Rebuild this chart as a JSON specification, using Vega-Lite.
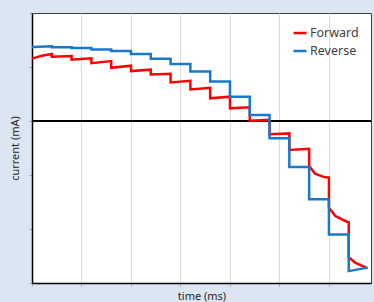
{
  "$schema": "https://vega.github.io/schema/vega-lite/v6.json",
  "autosize": "none",
  "width": 339,
  "height": 270,
  "padding": {"left": 32, "top": 13, "right": 3, "bottom": 19},
  "background": "#dce6f2",
  "config": {
    "view": {"fill": "white", "stroke": "#404040", "strokeWidth": 1},
    "font": "Noto Sans",
    "axis": {
      "domainColor": "black",
      "domainWidth": 1.5,
      "tickColor": "#a6a6a6",
      "tickSize": 3,
      "labels": false,
      "gridColor": "#d9d9d9",
      "gridWidth": 1,
      "titleFontWeight": "normal",
      "titleFontSize": 11,
      "titleColor": "#262626",
      "titleFont": "Noto Sans"
    }
  },
  "data": {
    "values": [
      {"series": "Forward", "i": 0, "t": 0.0, "v": 2.31},
      {"series": "Forward", "i": 1, "t": 0.2, "v": 2.42},
      {"series": "Forward", "i": 2, "t": 0.4, "v": 2.48},
      {"series": "Forward", "i": 3, "t": 0.4, "v": 2.38},
      {"series": "Forward", "i": 4, "t": 0.8, "v": 2.41},
      {"series": "Forward", "i": 5, "t": 0.8, "v": 2.27},
      {"series": "Forward", "i": 6, "t": 1.2, "v": 2.32},
      {"series": "Forward", "i": 7, "t": 1.2, "v": 2.14},
      {"series": "Forward", "i": 8, "t": 1.6, "v": 2.22},
      {"series": "Forward", "i": 9, "t": 1.6, "v": 1.97},
      {"series": "Forward", "i": 10, "t": 2.0, "v": 2.05},
      {"series": "Forward", "i": 11, "t": 2.0, "v": 1.85},
      {"series": "Forward", "i": 12, "t": 2.4, "v": 1.90},
      {"series": "Forward", "i": 13, "t": 2.4, "v": 1.72},
      {"series": "Forward", "i": 14, "t": 2.8, "v": 1.75},
      {"series": "Forward", "i": 15, "t": 2.8, "v": 1.43},
      {"series": "Forward", "i": 16, "t": 3.2, "v": 1.49},
      {"series": "Forward", "i": 17, "t": 3.2, "v": 1.17},
      {"series": "Forward", "i": 18, "t": 3.6, "v": 1.23},
      {"series": "Forward", "i": 19, "t": 3.6, "v": 0.84},
      {"series": "Forward", "i": 20, "t": 4.0, "v": 0.90},
      {"series": "Forward", "i": 21, "t": 4.0, "v": 0.47},
      {"series": "Forward", "i": 22, "t": 4.4, "v": 0.51},
      {"series": "Forward", "i": 23, "t": 4.4, "v": 0.01},
      {"series": "Forward", "i": 24, "t": 4.8, "v": 0.04},
      {"series": "Forward", "i": 25, "t": 4.8, "v": -0.49},
      {"series": "Forward", "i": 26, "t": 5.2, "v": -0.46},
      {"series": "Forward", "i": 27, "t": 5.2, "v": -1.07},
      {"series": "Forward", "i": 28, "t": 5.6, "v": -1.03},
      {"series": "Forward", "i": 29, "t": 5.6, "v": -1.67},
      {"series": "Forward", "i": 30, "t": 5.72, "v": -1.95},
      {"series": "Forward", "i": 31, "t": 5.89, "v": -2.07},
      {"series": "Forward", "i": 32, "t": 6.0, "v": -2.10},
      {"series": "Forward", "i": 33, "t": 6.0, "v": -3.21},
      {"series": "Forward", "i": 34, "t": 6.13, "v": -3.52},
      {"series": "Forward", "i": 35, "t": 6.36, "v": -3.73},
      {"series": "Forward", "i": 36, "t": 6.4, "v": -3.75},
      {"series": "Forward", "i": 37, "t": 6.4, "v": -5.04},
      {"series": "Forward", "i": 38, "t": 6.53, "v": -5.25},
      {"series": "Forward", "i": 39, "t": 6.78, "v": -5.46},
      {"series": "Reverse", "i": 0, "t": 0.0, "v": 2.74},
      {"series": "Reverse", "i": 1, "t": 0.4, "v": 2.77},
      {"series": "Reverse", "i": 2, "t": 0.4, "v": 2.73},
      {"series": "Reverse", "i": 3, "t": 0.8, "v": 2.73},
      {"series": "Reverse", "i": 4, "t": 0.8, "v": 2.70},
      {"series": "Reverse", "i": 5, "t": 1.2, "v": 2.70},
      {"series": "Reverse", "i": 6, "t": 1.2, "v": 2.65},
      {"series": "Reverse", "i": 7, "t": 1.6, "v": 2.65},
      {"series": "Reverse", "i": 8, "t": 1.6, "v": 2.59},
      {"series": "Reverse", "i": 9, "t": 2.0, "v": 2.59},
      {"series": "Reverse", "i": 10, "t": 2.0, "v": 2.48},
      {"series": "Reverse", "i": 11, "t": 2.4, "v": 2.48},
      {"series": "Reverse", "i": 12, "t": 2.4, "v": 2.31},
      {"series": "Reverse", "i": 13, "t": 2.8, "v": 2.31},
      {"series": "Reverse", "i": 14, "t": 2.8, "v": 2.11},
      {"series": "Reverse", "i": 15, "t": 3.2, "v": 2.11},
      {"series": "Reverse", "i": 16, "t": 3.2, "v": 1.83},
      {"series": "Reverse", "i": 17, "t": 3.6, "v": 1.83},
      {"series": "Reverse", "i": 18, "t": 3.6, "v": 1.46},
      {"series": "Reverse", "i": 19, "t": 4.0, "v": 1.46},
      {"series": "Reverse", "i": 20, "t": 4.0, "v": 0.90},
      {"series": "Reverse", "i": 21, "t": 4.4, "v": 0.90},
      {"series": "Reverse", "i": 22, "t": 4.4, "v": 0.22},
      {"series": "Reverse", "i": 23, "t": 4.8, "v": 0.22},
      {"series": "Reverse", "i": 24, "t": 4.8, "v": -0.64},
      {"series": "Reverse", "i": 25, "t": 5.2, "v": -0.64},
      {"series": "Reverse", "i": 26, "t": 5.2, "v": -1.70},
      {"series": "Reverse", "i": 27, "t": 5.6, "v": -1.70},
      {"series": "Reverse", "i": 28, "t": 5.6, "v": -2.90},
      {"series": "Reverse", "i": 29, "t": 6.0, "v": -2.90},
      {"series": "Reverse", "i": 30, "t": 6.0, "v": -4.20},
      {"series": "Reverse", "i": 31, "t": 6.4, "v": -4.20},
      {"series": "Reverse", "i": 32, "t": 6.4, "v": -5.56},
      {"series": "Reverse", "i": 33, "t": 6.78, "v": -5.43}
    ]
  },
  "layer": [
    {
      "mark": {"type": "rule", "color": "black", "strokeWidth": 1.5},
      "encoding": {"y": {"datum": 0, "type": "quantitative"}}
    },
    {
      "mark": {"type": "line", "strokeWidth": 2.5, "strokeJoin": "miter", "strokeCap": "butt"},
      "encoding": {
        "x": {
          "field": "t",
          "type": "quantitative",
          "scale": {"domain": [0, 6.85], "nice": false, "zero": false},
          "axis": {"values": [0, 1, 2, 3, 4, 5, 6], "title": "time (ms)", "titlePadding": 4}
        },
        "y": {
          "field": "v",
          "type": "quantitative",
          "scale": {"domain": [-6, 4], "nice": false},
          "axis": {"values": [-6, -5, -4, -3, -2, -1, 0, 1, 2, 3, 4], "title": "current (mA)", "titlePadding": 8}
        },
        "order": {"field": "i", "type": "quantitative"},
        "color": {
          "field": "series",
          "type": "nominal",
          "scale": {"domain": ["Forward", "Reverse"], "range": ["#ff0000", "#1a78cc"]},
          "legend": {
            "title": null,
            "orient": "top-right",
            "offset": 12,
            "symbolType": "stroke",
            "symbolSize": 170,
            "symbolStrokeWidth": 2.5,
            "labelFontSize": 12.5,
            "labelColor": "#404040",
            "labelFont": "Noto Sans",
            "rowPadding": 3,
            "labelOffset": 2
          }
        }
      }
    }
  ]
}
